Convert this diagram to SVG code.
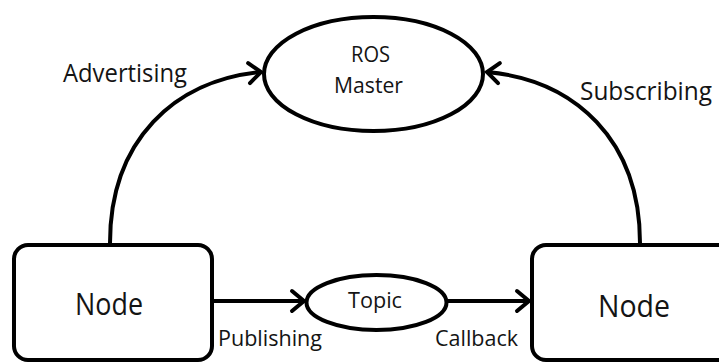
<svg xmlns="http://www.w3.org/2000/svg" width="719" height="363" viewBox="0 0 719 363">
  <style>
    .shape { fill: #ffffff; stroke: #000000; stroke-width: 4; }
    .edge { fill: none; stroke: #000000; stroke-width: 4; }
    .label { font-family: "Open Sans", "Liberation Sans", sans-serif; fill: #141414; }
  </style>
  <defs>
    <marker id="chevron" markerUnits="userSpaceOnUse" viewBox="-16 -14 20 28" markerWidth="20" markerHeight="28" refX="0" refY="0" orient="auto">
      <path d="M-12,-10 L0,0 L-12,10" fill="none" stroke="#000000" stroke-width="4" stroke-linecap="round" stroke-linejoin="miter"/>
    </marker>
  </defs>

  <rect width="719" height="363" fill="#ffffff"/>

  <g id="connectors">
    <path class="edge" d="M110,243 C110,140 175,80 261,72" marker-end="url(#chevron)"/>
    <path class="edge" d="M640,243 C640,140 575,80 487,72" marker-end="url(#chevron)"/>
    <path class="edge" d="M214,301 L304,301" marker-end="url(#chevron)"/>
    <path class="edge" d="M448,301 L529,301" marker-end="url(#chevron)"/>
  </g>

  <g id="ros-master">
    <ellipse class="shape" cx="373.5" cy="74" rx="109.5" ry="57"/>
    <text class="label" x="351" y="62" font-size="21" textLength="39" lengthAdjust="spacingAndGlyphs">ROS</text>
    <text class="label" x="334" y="93" font-size="21" textLength="69" lengthAdjust="spacingAndGlyphs">Master</text>
  </g>

  <g id="topic">
    <ellipse class="shape" cx="376.5" cy="302.5" rx="70" ry="27.5"/>
    <text class="label" x="348" y="308" font-size="21" textLength="54" lengthAdjust="spacingAndGlyphs">Topic</text>
  </g>

  <g id="node-publisher">
    <rect class="shape" x="14" y="245" width="198" height="115" rx="14"/>
    <text class="label" x="75" y="315" font-size="31" textLength="68" lengthAdjust="spacingAndGlyphs">Node</text>
  </g>

  <g id="node-subscriber">
    <rect class="shape" x="532" y="245" width="200" height="115" rx="14"/>
    <text class="label" x="598" y="317" font-size="31" textLength="72" lengthAdjust="spacingAndGlyphs">Node</text>
  </g>

  <g id="edge-labels">
    <text class="label" x="63" y="82" font-size="25" textLength="124" lengthAdjust="spacingAndGlyphs">Advertising</text>
    <text class="label" x="580" y="100" font-size="25" textLength="132" lengthAdjust="spacingAndGlyphs">Subscribing</text>
    <text class="label" x="218" y="346" font-size="22" textLength="104" lengthAdjust="spacingAndGlyphs">Publishing</text>
    <text class="label" x="435" y="346" font-size="22" textLength="83" lengthAdjust="spacingAndGlyphs">Callback</text>
  </g>
</svg>
